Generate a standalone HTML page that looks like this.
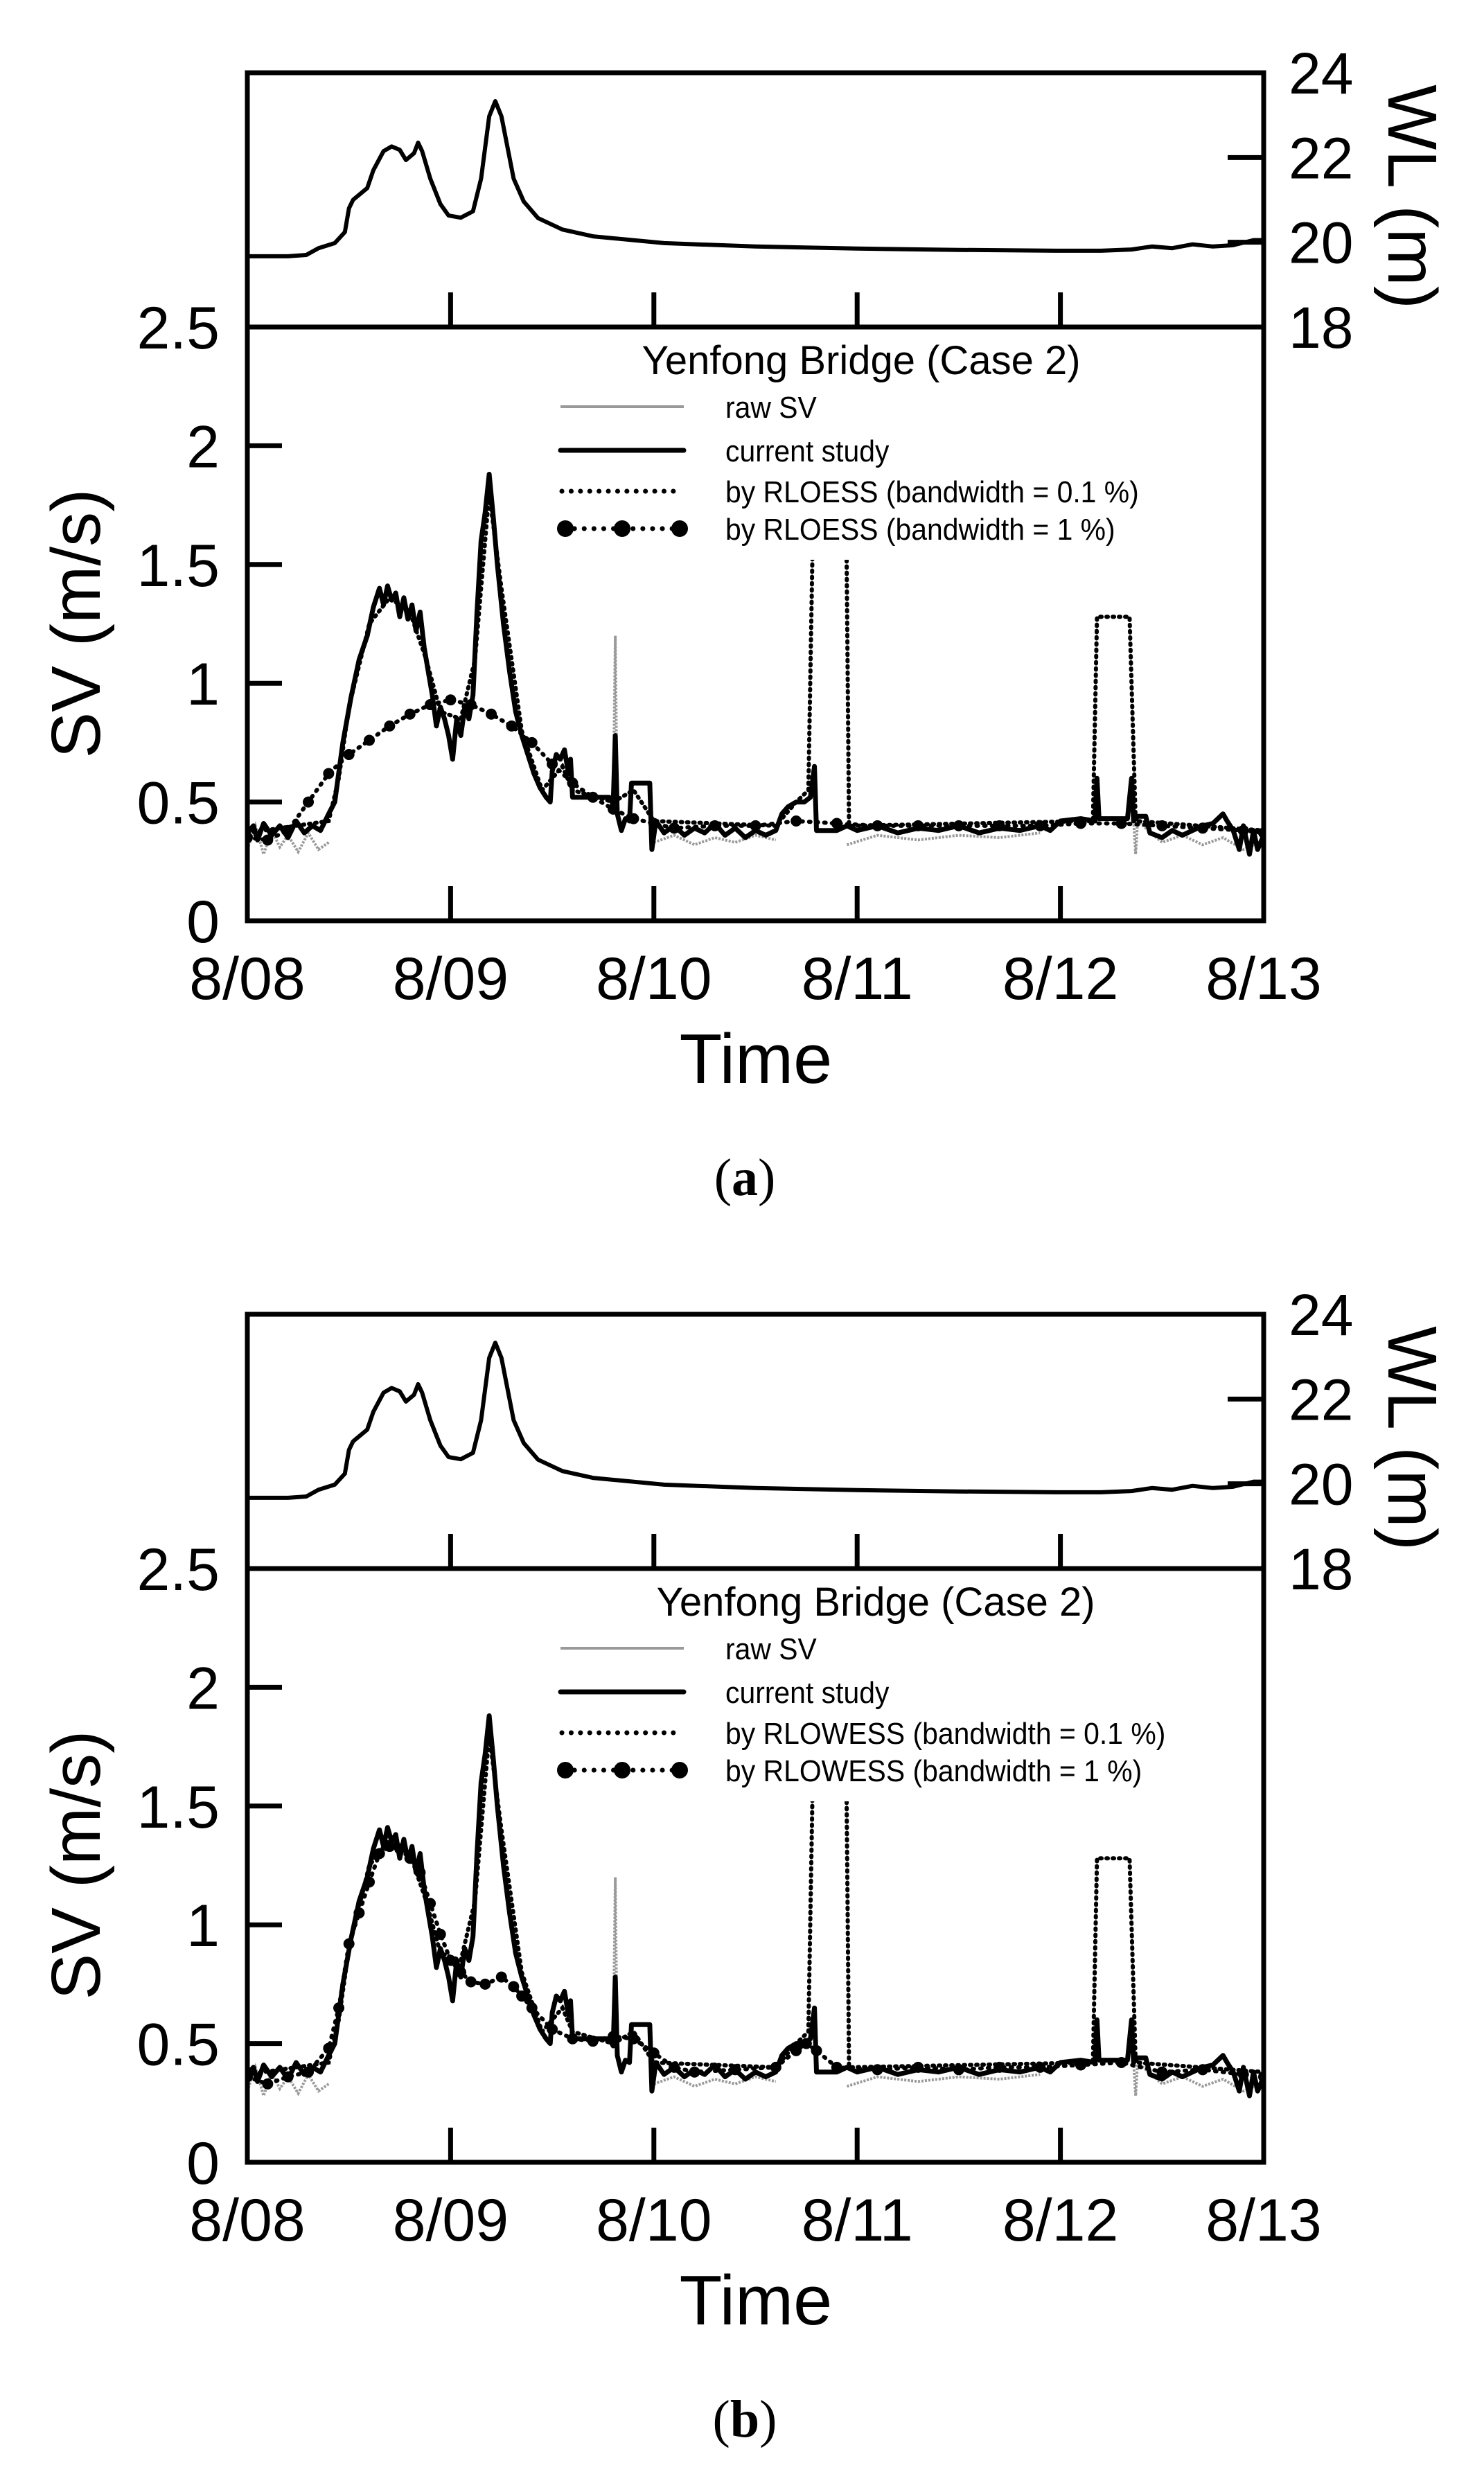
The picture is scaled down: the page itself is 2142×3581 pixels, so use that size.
<!DOCTYPE html>
<html><head><meta charset="utf-8"><style>
html,body{margin:0;padding:0;background:#fff}
svg{display:block}
text{font-family:"Liberation Sans",Arial,sans-serif;fill:#000}
</style></head><body>
<svg id="fig" width="2142" height="3581" viewBox="0 0 2142 3581" xmlns="http://www.w3.org/2000/svg"></svg>
<script>
// ---------- DATA ----------
const dayLabels = ['8/08','8/09','8/10','8/11','8/12','8/13'];
const svTicks = [0,0.5,1,1.5,2,2.5];
const svTickLabels = ['0','0.5','1','1.5','2','2.5'];
const wlTicks = [18,20,22,24];
const wlTickLabels = ['18','20','22','24'];

const wlT = [0,0.2,0.29,0.35,0.43,0.48,0.5,0.52,0.59,0.62,0.67,0.71,0.75,0.78,0.82,0.84,0.86,0.9,0.95,0.99,1.05,1.11,1.15,1.19,1.22,1.25,1.31,1.36,1.43,1.55,1.7,2.05,2.5,3,3.5,4,4.2,4.35,4.45,4.55,4.65,4.75,4.85,4.95,5];
const wlV = [19.67,19.67,19.7,19.86,19.98,20.24,20.8,21.0,21.28,21.7,22.15,22.26,22.18,21.94,22.1,22.35,22.15,21.5,20.9,20.63,20.58,20.73,21.5,22.97,23.33,22.97,21.5,20.96,20.57,20.3,20.14,19.98,19.9,19.85,19.82,19.8,19.8,19.83,19.9,19.86,19.95,19.9,19.93,20.05,20.05];

const csT = [0,0.03,0.05,0.08,0.12,0.16,0.2,0.24,0.28,0.32,0.36,0.4,0.43,0.47,0.51,0.55,0.59,0.62,0.65,0.67,0.69,0.71,0.73,0.75,0.77,0.79,0.81,0.83,0.85,0.87,0.89,0.91,0.93,0.95,0.97,0.99,1.01,1.03,1.05,1.07,1.09,1.11,1.13,1.15,1.17,1.19,1.21,1.23,1.26,1.29,1.32,1.35,1.38,1.41,1.44,1.47,1.49,1.5,1.52,1.54,1.56,1.58,1.59,1.6,1.78,1.8,1.81,1.82,1.84,1.86,1.88,1.89,1.98,1.99,2.01,2.05,2.1,2.15,2.2,2.25,2.3,2.35,2.4,2.45,2.5,2.55,2.6,2.63,2.66,2.7,2.74,2.77,2.79,2.8,2.9,2.95,3.0,3.1,3.2,3.3,3.4,3.5,3.6,3.7,3.8,3.9,3.95,4.0,4.1,4.17,4.18,4.19,4.33,4.35,4.36,4.38,4.42,4.44,4.5,4.55,4.6,4.65,4.7,4.75,4.8,4.82,4.85,4.88,4.9,4.93,4.95,4.97,5.0];
const csV = [0.37,0.40,0.34,0.41,0.36,0.40,0.35,0.42,0.37,0.40,0.38,0.45,0.5,0.75,0.94,1.1,1.2,1.32,1.4,1.33,1.41,1.35,1.38,1.28,1.36,1.27,1.33,1.22,1.3,1.15,1.05,0.95,0.82,0.9,0.85,0.78,0.68,0.85,0.78,0.9,0.85,0.95,1.3,1.6,1.72,1.88,1.7,1.5,1.25,1.05,0.88,0.78,0.7,0.62,0.56,0.52,0.5,0.63,0.7,0.68,0.72,0.62,0.68,0.52,0.52,0.49,0.78,0.45,0.38,0.43,0.42,0.58,0.58,0.3,0.42,0.37,0.4,0.36,0.39,0.37,0.41,0.36,0.39,0.35,0.38,0.36,0.38,0.45,0.48,0.5,0.5,0.52,0.65,0.38,0.38,0.4,0.38,0.4,0.37,0.39,0.38,0.4,0.37,0.39,0.38,0.4,0.38,0.42,0.43,0.42,0.6,0.43,0.43,0.6,0.42,0.44,0.44,0.37,0.35,0.38,0.36,0.38,0.4,0.41,0.45,0.42,0.38,0.3,0.4,0.28,0.38,0.3,0.36];

// raw SV: null separates segments
const rawT = [0,0.04,0.08,0.12,0.16,0.2,0.25,0.3,0.35,0.4,null,1.8,1.81,1.82,null,2.0,2.1,2.2,2.3,2.4,2.5,2.6,null,2.95,3.1,3.3,3.5,3.7,3.9,null,4.36,4.37,4.38,4.5,4.6,4.7,4.8,4.9,5.0];
const rawV = [0.3,0.4,0.28,0.38,0.31,0.36,0.29,0.37,0.3,0.33,null,0.5,1.2,0.45,null,0.33,0.36,0.32,0.35,0.33,0.36,0.34,null,0.32,0.36,0.34,0.36,0.35,0.37,null,0.42,0.28,0.42,0.33,0.36,0.32,0.35,0.3,0.34];

const r01T = [0,0.4,0.45,0.5,0.6,0.7,0.8,0.88,0.95,1.05,1.12,1.19,1.25,1.35,1.45,1.55,1.6,1.8,1.9,2.0,2.6,2.7,2.76,2.78,2.8,2.94,2.96,4.16,4.18,4.34,4.37,5];
const r01V = [0.37,0.42,0.6,0.9,1.25,1.36,1.3,1.1,0.88,0.85,1.1,1.8,1.4,0.8,0.55,0.65,0.55,0.5,0.55,0.42,0.4,0.5,0.55,1.55,2.3,2.3,0.4,0.42,1.28,1.28,0.42,0.38];

const r1aT = [0,0.1,0.2,0.3,0.4,0.5,0.6,0.7,0.8,0.9,1.0,1.1,1.2,1.3,1.4,1.5,1.6,1.7,1.8,1.9,2.0,2.1,2.3,2.5,2.7,2.9,3.1,3.3,3.5,3.7,3.9,4.1,4.3,4.5,4.7,4.9,5.0];
const r1aV = [0.35,0.34,0.38,0.5,0.62,0.7,0.76,0.82,0.87,0.91,0.93,0.91,0.87,0.82,0.75,0.66,0.58,0.52,0.47,0.43,0.41,0.39,0.4,0.4,0.42,0.41,0.4,0.4,0.4,0.4,0.4,0.41,0.41,0.4,0.39,0.38,0.37];

const r1bT = [0,0.1,0.2,0.3,0.4,0.45,0.5,0.55,0.6,0.65,0.7,0.75,0.8,0.85,0.9,0.95,1.0,1.05,1.1,1.17,1.25,1.31,1.35,1.4,1.5,1.6,1.7,1.8,1.9,2.0,2.1,2.2,2.4,2.6,2.7,2.75,2.8,2.9,3.1,3.3,3.5,3.7,3.9,4.1,4.3,4.5,4.7,4.9,5.0];
const r1bV = [0.36,0.33,0.36,0.38,0.48,0.65,0.92,1.05,1.18,1.3,1.33,1.32,1.28,1.22,1.09,0.96,0.85,0.8,0.76,0.75,0.78,0.74,0.7,0.65,0.56,0.52,0.51,0.53,0.52,0.46,0.4,0.38,0.39,0.4,0.47,0.5,0.47,0.4,0.39,0.4,0.39,0.4,0.4,0.41,0.42,0.38,0.39,0.37,0.36];

// ---------- LAYOUT ----------
const NS = 'http://www.w3.org/2000/svg';
const svg = document.getElementById('fig');
const L = 357, R = 1824;
function X(d){ return L + d*(R-L)/5; }
function mk(tag, attrs, parent){
  const e = document.createElementNS(NS, tag);
  for (const k in attrs) e.setAttribute(k, attrs[k]);
  (parent||svg).appendChild(e);
  return e;
}
function pathD(ts, vs, fy){
  let d = '', pen = false;
  for (let i=0;i<ts.length;i++){
    if (ts[i] === null){ pen = false; continue; }
    d += (pen?'L':'M') + X(ts[i]).toFixed(1) + ' ' + fy(vs[i]).toFixed(1);
    pen = true;
  }
  return d;
}

function panel(dy, letter, method, r1T, r1V, titleCx){
  const TOP = 105+dy, MID = 472+dy, BOT = 1329+dy;
  const Ysv = v => BOT - v*(BOT-MID)/2.5;
  const Ywl = w => MID - (w-18)*(MID-TOP)/6;
  const g = mk('g', {});
  
  

  const clip = mk('clipPath', {id:'clip'+letter}, g);
  mk('rect', {x:L, y:MID, width:R-L, height:BOT-MID}, clip);

  const wl = mk('path', {d:pathD(wlT, wlV, Ywl), fill:'none', stroke:'#000', 'stroke-width':6, 'stroke-linejoin':'round'}, g);
  
  

  const pg = mk('g', {'clip-path':'url(#clip'+letter+')'}, g);
  const raw = mk('path', {d:pathD(rawT, rawV, Ysv), fill:'none', stroke:'#999', 'stroke-width':4, 'stroke-dasharray':'3 2'}, pg);
  
  
  const d01 = mk('path', {d:pathD(r01T, r01V, Ysv), fill:'none', stroke:'#000', 'stroke-width':6, 'stroke-dasharray':'2 7', 'stroke-linecap':'round'}, pg);
  
  
  const cs = mk('path', {d:pathD(csT, csV, Ysv), fill:'none', stroke:'#000', 'stroke-width':7, 'stroke-linejoin':'round'}, pg);
  
  
  const d1 = mk('path', {d:pathD(r1T, r1V, Ysv), fill:'none', stroke:'#000', 'stroke-width':6, 'stroke-dasharray':'2 9', 'stroke-linecap':'round'}, pg);
  
  
  for (let i=0;i<r1T.length;i++){
    const c = mk('circle', {cx:X(r1T[i]), cy:Ysv(r1V[i]), r:8, fill:'#000'}, pg);
    
    
  }

  const lg = mk('g', {}, g);
  
  
  mk('rect', {x:795, y:MID+8, width:900, height:1329+dy-1.52*342.8-MID-8, fill:'#fff'}, lg);
  const tt = mk('text', {x:titleCx, y:540+dy, 'font-size':58, 'text-anchor':'middle'}, lg);
  tt.textContent = 'Yenfong Bridge (Case 2)';
  
  
  const rows = [587, 650, 709, 763];
  const names = ['raw SV','current study','by '+method+' (bandwidth = 0.1 %)','by '+method+' (bandwidth = 1 %)'];
  const ids = ['raw-sv','current-study','smooth-0.1pct','smooth-1pct'];
  for (let i=0;i<4;i++){
    const y = rows[i]+dy;
    const e = mk('g', {}, lg);
    
    
    if (i===0) mk('line', {x1:809, x2:987, y1:y, y2:y, stroke:'#999', 'stroke-width':4}, e);
    if (i===1) mk('line', {x1:809, x2:987, y1:y, y2:y, stroke:'#000', 'stroke-width':7, 'stroke-linecap':'round'}, e);
    if (i===2) mk('line', {x1:811, x2:985, y1:y, y2:y, stroke:'#000', 'stroke-width':7, 'stroke-dasharray':'0.1 13.3', 'stroke-linecap':'round'}, e);
    if (i===3){
      mk('line', {x1:815, x2:981, y1:y, y2:y, stroke:'#000', 'stroke-width':7, 'stroke-dasharray':'0.1 14', 'stroke-linecap':'round'}, e);
      [816, 898, 981].forEach(cx => mk('circle', {cx:cx, cy:y, r:12, fill:'#000'}, e));
    }
    const t = mk('text', {x:1047, y:y+16, 'font-size':44, transform:'translate(1047 0) scale(0.93 1) translate(-1047 0)'}, e);
    t.textContent = names[i];
  }

  mk('rect', {x:L, y:TOP, width:R-L, height:BOT-TOP, fill:'none', stroke:'#000', 'stroke-width':7}, g);
  mk('line', {x1:L, x2:R, y1:MID, y2:MID, stroke:'#000', 'stroke-width':7}, g);

  for (let i=0;i<dayLabels.length;i++){
    const x = X(i);
    if (i>0 && i<5){
      mk('line', {x1:x, x2:x, y1:BOT, y2:BOT-50, stroke:'#000', 'stroke-width':7}, g);
      mk('line', {x1:x, x2:x, y1:MID, y2:MID-50, stroke:'#000', 'stroke-width':7}, g);
    }
    const t = mk('text', {x:x, y:1442+dy, 'font-size':86, 'text-anchor':'middle'}, g);
    t.textContent = dayLabels[i];
    
    
  }
  for (let i=0;i<svTicks.length;i++){
    const y = Ysv(svTicks[i]);
    if (svTicks[i]>0 && svTicks[i]<2.5) mk('line', {x1:L, x2:L+50, y1:y, y2:y, stroke:'#000', 'stroke-width':7}, g);
    const t = mk('text', {x:317, y:y+31, 'font-size':86, 'text-anchor':'end'}, g);
    t.textContent = svTickLabels[i];
    
    
  }
  for (let i=0;i<wlTicks.length;i++){
    const y = Ywl(wlTicks[i]);
    if (wlTicks[i]>18 && wlTicks[i]<24) mk('line', {x1:R, x2:R-52, y1:y, y2:y, stroke:'#000', 'stroke-width':7}, g);
    const t = mk('text', {x:1860, y:y+30, 'font-size':84}, g);
    t.textContent = wlTickLabels[i];
    
    
  }
  const yt = mk('text', {x:0, y:0, 'font-size':100, 'text-anchor':'middle', transform:'translate(144 '+(900+dy)+') rotate(-90)'}, g);
  yt.textContent = 'SV (m/s)';
  
  
  const wt = mk('text', {x:0, y:0, 'font-size':100, 'text-anchor':'middle', transform:'translate(2004 '+(284+dy)+') rotate(90)'}, g);
  wt.textContent = 'WL (m)';
  
  
  const xt = mk('text', {x:1091, y:1563+dy, 'font-size':101, 'text-anchor':'middle'}, g);
  xt.textContent = 'Time';
  
  
  const cap = mk('text', {x:1075, y:1725+dy, 'font-size':76, 'text-anchor':'middle', style:'font-family:"Liberation Serif",serif'}, g);
  cap.innerHTML = '(<tspan font-weight="bold">' + letter + '</tspan>)';
  
  
}
panel(0, 'a', 'RLOESS', r1aT, r1aV, 1243);
panel(1792, 'b', 'RLOWESS', r1bT, r1bV, 1264);
</script>
</body></html>
